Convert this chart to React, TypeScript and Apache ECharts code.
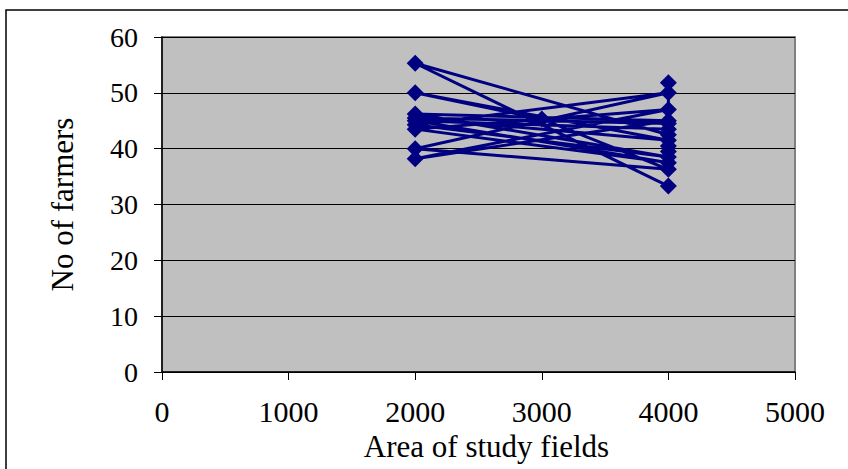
import React, { useEffect, useRef } from "react";
import * as echarts from "echarts";

// Area of study fields (x) and No of farmers (y), in the order the line visits them
const areaValues = [4000, 4000, 2000, 4000, 2000, 3000, 4000, 2000, 4000, 2000, 4000, 2000, 4000, 2000, 4000, 2000, 4000, 2000, 4000, 4000, 4000, 4000, 2000, 4000];
const farmerValues = [51.8, 44.5, 45.5, 41.5, 50, 45.3, 36.3, 40, 50, 44.3, 38.5, 46.2, 45, 38.2, 47, 43.5, 37.5, 45, 43.5, 40.5, 39.5, 42.5, 55.3, 33.3];
const xTicks = [0, 1000, 2000, 3000, 4000, 5000];
const yTicks = [0, 10, 20, 30, 40, 50, 60];

export default function App() {
  const ref = useRef<HTMLDivElement>(null);
  useEffect(() => {
    if (!ref.current) return;
    const chart = echarts.init(ref.current, null, { renderer: "svg" });
    const font = "Liberation Serif";
    chart.setOption({
      animation: false,
      backgroundColor: "#ffffff",
      graphic: [
        {
          type: "rect",
          shape: { x: 6, y: 10, width: 900, height: 600 },
          style: { fill: "none", stroke: "#000", lineWidth: 1.5 },
          z: 100,
        },
      ],
      grid: {
        left: 162,
        top: 37,
        right: 53,
        bottom: 97,
        show: true,
        backgroundColor: "#C0C0C0",
        borderColor: "#808080",
        borderWidth: 2,
      },
      xAxis: {
        type: "value",
        min: xTicks[0],
        max: xTicks[xTicks.length - 1],
        interval: 1000,
        name: "Area of study fields",
        nameLocation: "middle",
        nameGap: 52,
        nameTextStyle: { fontFamily: font, fontSize: 31, color: "#000", padding: [0, 0, 0, 16] },
        axisLine: { show: true, onZero: false, lineStyle: { color: "#000", width: 1.5 } },
        axisTick: { show: true, length: 8, inside: false, lineStyle: { color: "#000" } },
        axisLabel: { fontFamily: font, fontSize: 30, color: "#000", margin: 24, formatter: (v: number) => String(v) },
        splitLine: { show: false },
      },
      yAxis: {
        type: "value",
        min: yTicks[0],
        max: yTicks[yTicks.length - 1],
        interval: 10,
        name: "No of farmers",
        nameLocation: "middle",
        nameGap: 84,
        nameTextStyle: { fontFamily: font, fontSize: 31, color: "#000" },
        axisLine: { show: true, onZero: false, lineStyle: { color: "#000", width: 1.5 } },
        axisTick: { show: true, length: 8, inside: false, lineStyle: { color: "#000" } },
        axisLabel: { fontFamily: font, fontSize: 28, color: "#000", margin: 24, formatter: (v: number) => String(v) },
        splitLine: { show: true, lineStyle: { color: "#000", width: 1 } },
      },
      series: [
        {
          type: "line",
          data: areaValues.map((a, i) => [a, farmerValues[i]]),
          symbol: "diamond",
          symbolSize: 17,
          showSymbol: true,
          itemStyle: { color: "#000080" },
          lineStyle: { color: "#000080", width: 3 },
          z: 5,
        },
      ],
    });
    return () => chart.dispose();
  }, []);
  return (
    <div
      ref={ref}
      style={{ position: "fixed", left: 0, top: 0, width: 848, height: 469 }}
    />
  );
}
